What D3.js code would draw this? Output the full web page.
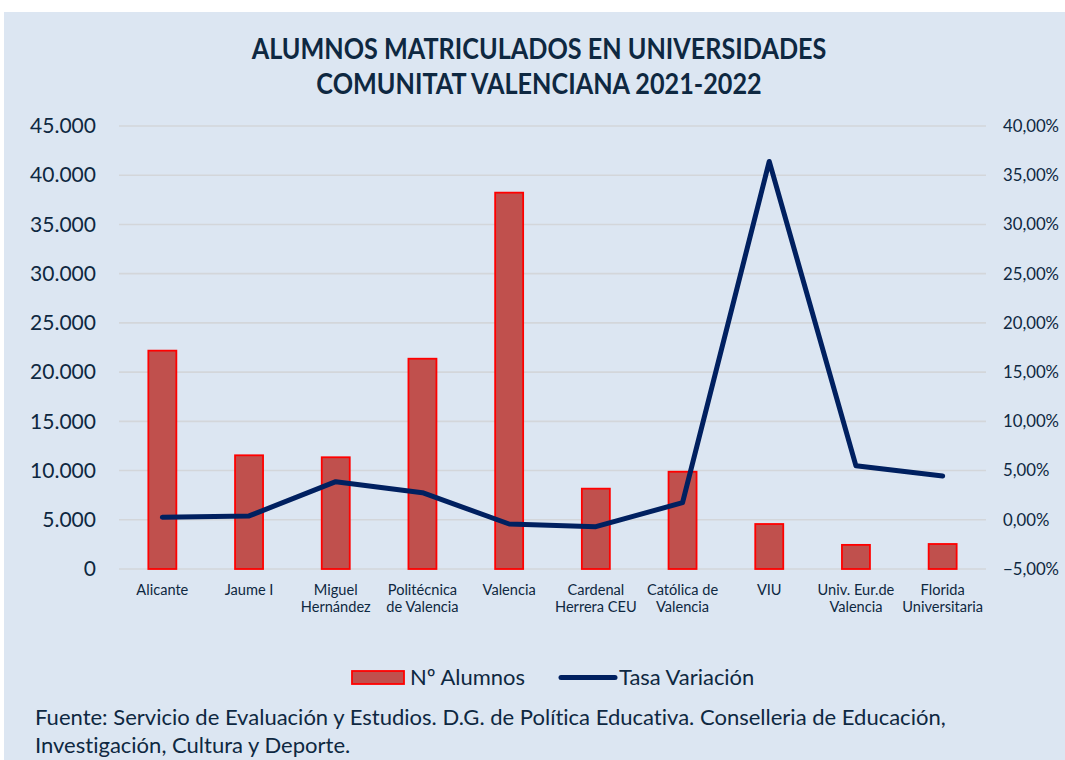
<!DOCTYPE html>
<html><head><meta charset="utf-8">
<script src="https://cdn.jsdelivr.net/npm/d3@7"></script>
<style>body{margin:0;background:#fff;} text{font-family:Lato,"Open Sans",sans-serif;font-variant-ligatures:none;font-feature-settings:"liga" 0, "dlig" 0;}</style>
</head><body>
<svg id="chart" width="1065" height="760"></svg>
<script>
const titleLines = ["ALUMNOS MATRICULADOS EN UNIVERSIDADES", "COMUNITAT VALENCIANA 2021-2022"];
const categories = ["Alicante", "Jaume I", "Miguel\nHernández", "Politécnica\nde Valencia", "Valencia", "Cardenal\nHerrera CEU", "Católica de\nValencia", "VIU", "Univ. Eur.de\nValencia", "Florida\nUniversitaria"];
const alumnos = [22180, 11550, 11350, 21360, 38230, 8160, 9880, 4570, 2450, 2540];
const tasaVariacion = [0.25, 0.39, 3.87, 2.75, -0.43, -0.70, 1.74, 36.4, 5.48, 4.45];
const leftTicks = [0, 5000, 10000, 15000, 20000, 25000, 30000, 35000, 40000, 45000];
const rightTicks = [-5, 0, 5, 10, 15, 20, 25, 30, 35, 40];
const seriesNames = ["Nº Alumnos", "Tasa Variación"];
const footerLines = ["Fuente: Servicio de Evaluación y Estudios. D.G. de Política Educativa. Conselleria de Educación,", "Investigación, Cultura y Deporte."];

const textColor = "#0E2841";
const svg = d3.select("#chart");
const loc = d3.formatLocale({decimal: ",", thousands: ".", grouping: [3], currency: ["", "€"]});
const fmtLeft = loc.format(",.0f");
const fmtRight = d => loc.format(".2f")(d) + "%";

function fitSize(str, weight, target, base) {
  const t = svg.append("text").attr("font-size", base).attr("font-weight", weight).text(str);
  const w = t.node().getComputedTextLength();
  t.remove();
  return base * target / w;
}

// background panel
svg.append("rect").attr("x", 4).attr("y", 12).attr("width", 1061).attr("height", 748).attr("fill", "#DCE6F2");

const margin = {left: 119, right: 986, top: 126, bottom: 569};
const band = d3.scaleBand().domain(categories).range([margin.left, margin.right]);
const yL = d3.scaleLinear().domain([0, 45000]).range([margin.bottom, margin.top]);
const yR = d3.scaleLinear().domain([-5, 40]).range([margin.bottom, margin.top]);

// gridlines
svg.append("g").selectAll("line").data(leftTicks).join("line")
  .attr("x1", margin.left).attr("x2", margin.right)
  .attr("y1", d => yL(d)).attr("y2", d => yL(d))
  .attr("stroke", "#D3D6DA").attr("stroke-width", 1.6);

// left axis
const lSize = fitSize("45.000", 400, 66, 20);
const leftAxis = d3.axisLeft(yL).tickValues(leftTicks).tickFormat(fmtLeft).tickSize(0).tickPadding(0);
const gl = svg.append("g").attr("transform", "translate(96,0)").call(leftAxis);
gl.select(".domain").remove();
gl.selectAll("text").attr("font-size", lSize).attr("fill", textColor).attr("font-family", "Lato");

// right axis
const rSize = fitSize("40,00%", 400, 56, 20);
const rightAxis = d3.axisRight(yR).tickValues(rightTicks).tickFormat(fmtRight).tickSize(0).tickPadding(0);
const gr = svg.append("g").attr("transform", "translate(1003,0)").call(rightAxis);
gr.select(".domain").remove();
gr.selectAll("text").attr("font-size", rSize).attr("fill", textColor).attr("font-family", "Lato");

// bars
const bw = 28;
svg.append("g").selectAll("rect").data(alumnos).join("rect")
  .attr("x", (d, i) => band(categories[i]) + band.bandwidth() / 2 - bw / 2)
  .attr("width", bw)
  .attr("y", d => yL(d))
  .attr("height", d => yL(0) - yL(d))
  .attr("fill", "#C0504D").attr("stroke", "#FF0000").attr("stroke-width", 1.8);

// line
const line = d3.line().x((d, i) => band(categories[i]) + band.bandwidth() / 2).y(d => yR(d));
svg.append("path").datum(tasaVariacion).attr("d", line)
  .attr("fill", "none").attr("stroke", "#002060").attr("stroke-width", 5)
  .attr("stroke-linejoin", "round").attr("stroke-linecap", "round");

// category labels
const cSize = fitSize("Alicante", 400, 52, 14);
const cg = svg.append("g");
categories.forEach(c => {
  const cx = band(c) + band.bandwidth() / 2;
  const t = cg.append("text").attr("text-anchor", "middle").attr("font-size", cSize).attr("fill", textColor);
  c.split("\n").forEach((ln, j) => {
    t.append("tspan").attr("x", cx).attr("y", 595 + j * 17).text(ln);
  });
});

// title
const tSize = fitSize(titleLines[0], 700, 575, 24);
titleLines.forEach((ln, i) => {
  svg.append("text").attr("transform", `translate(539,${59 + i * 35}) scale(1,1.12)`).attr("text-anchor", "middle")
    .attr("font-size", tSize).attr("font-weight", 700).attr("fill", "#0E2841").text(ln);
});

// legend
const lgSize = fitSize(seriesNames[0], 400, 115, 20);
svg.append("rect").attr("x", 352).attr("y", 671).attr("width", 52).attr("height", 13)
  .attr("fill", "#C0504D").attr("stroke", "#FF0000").attr("stroke-width", 1.8);
svg.append("text").attr("x", 410).attr("y", 685).attr("font-size", lgSize).attr("fill", textColor).text(seriesNames[0]);
svg.append("line").attr("x1", 561).attr("x2", 615).attr("y1", 677.5).attr("y2", 677.5)
  .attr("stroke", "#002060").attr("stroke-width", 5).attr("stroke-linecap", "round");
svg.append("text").attr("x", 619).attr("y", 685).attr("font-size", lgSize).attr("fill", textColor).text(seriesNames[1]);

// footer
const fSize = fitSize(footerLines[0], 400, 911, 18);
footerLines.forEach((ln, i) => {
  svg.append("text").attr("x", 35).attr("y", 725 + i * 28).attr("font-size", fSize).attr("fill", textColor).text(ln);
});
</script>
</body></html>
